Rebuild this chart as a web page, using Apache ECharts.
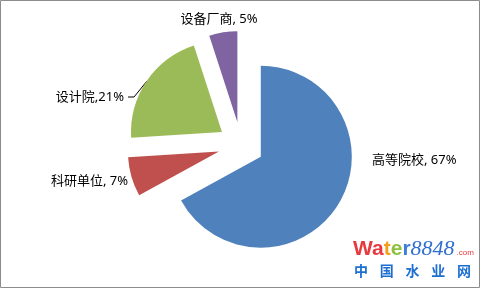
<!DOCTYPE html>
<html>
<head>
<meta charset="utf-8">
<script src="https://cdn.jsdelivr.net/npm/echarts@6/dist/echarts.min.js"></script>
<style>
  html, body { margin: 0; padding: 0; background: #fff; }
  #chart { width: 481px; height: 289px; }
</style>
</head>
<body>
<div id="chart"></div>
<script>
// Survey respondents by organisation type
const categories = ['高等院校', '科研单位', '设计院', '设备厂商'];
const shares = [67, 7, 21, 5];
const separators = [', ', ', ', ',', ', '];
const sliceColors = ['#4F81BD', '#C0504D', '#9BBB59', '#8064A2'];

const FONT = '"Noto Sans", "Noto Sans CJK SC", sans-serif';
const PIE_CENTER = [241, 145];
const PIE_RADIUS = 91;
const EXPLODE = 23;

// label anchors around the exploded pie
const labelSpots = [
  { x: 372, y: 160, align: 'left' },
  { x: 128, y: 181, align: 'right' },
  { x: 124, y: 97, align: 'right', line: [[128, 97], [134, 97], [147, 81]] },
  { x: 219, y: 19, align: 'center' }
];

const chart = echarts.init(document.getElementById('chart'), null, { renderer: 'canvas' });

// each slice is pushed out from the common centre along its own bisector,
// so every slice gets a pie series of its own
const total = shares.reduce((a, b) => a + b, 0);
let acc = 0;
const series = categories.map((name, i) => {
  const mid = (acc + shares[i] / 2) / total * Math.PI * 2;
  acc += shares[i];
  const center = [
    PIE_CENTER[0] + EXPLODE * Math.sin(mid),
    PIE_CENTER[1] - EXPLODE * Math.cos(mid)
  ];
  return {
    type: 'pie',
    center: center,
    radius: PIE_RADIUS,
    startAngle: 90,
    clockwise: true,
    silent: true,
    emphasis: { disabled: true },
    data: categories.map((n, j) => ({
      name: n,
      value: shares[j],
      itemStyle: { color: j === i ? sliceColors[j] : 'rgba(0,0,0,0)' },
      label: { show: j === i },
      labelLine: { show: j === i && j === 2 }
    })),
    label: {
      position: 'outside',
      overflow: 'none',
      width: null,
      color: '#000',
      fontSize: 13,
      fontFamily: FONT,
      formatter: p => p.name + separators[p.dataIndex] + p.value + '%'
    },
    labelLine: {
      lineStyle: { color: '#000', width: 1 }
    },
    labelLayout: function (params) {
      if (params.dataIndex !== i) return {};
      const s = labelSpots[i];
      const out = { x: s.x, y: s.y, align: s.align, verticalAlign: 'middle' };
      if (s.line) out.labelLinePoints = s.line;
      return out;
    }
  };
});

// site mark in the lower right corner
const markChars = ['中', '国', '水', '业', '网'];
const markGraphics = markChars.map((ch, k) => ({
  type: 'text',
  x: 361 + k * 25.75,
  y: 271,
  style: {
    text: ch,
    fill: '#1d6fd2',
    font: 'bold 14px "Noto Sans CJK SC", sans-serif',
    align: 'center',
    verticalAlign: 'middle'
  },
  silent: true
}));

chart.setOption({
  animation: false,
  backgroundColor: '#ffffff',
  graphic: [
    {
      type: 'rect',
      shape: { x: 0.5, y: 0.5, width: 479, height: 287 },
      style: { fill: 'none', stroke: '#8c8c8c', lineWidth: 1 },
      silent: true
    },
    {
      type: 'text', x: 353, y: 260,
      style: {
        text: '{r|Wa}{o|t}{g|e}{b|r}{n|8848}{c|.com}',
        verticalAlign: 'bottom',
        rich: {
          r: { fill: '#e63a3f', font: 'bold 21px "Liberation Sans", sans-serif' },
          o: { fill: '#f5a01a', font: 'bold 21px "Liberation Sans", sans-serif' },
          g: { fill: '#8cc23f', font: 'bold 21px "Liberation Sans", sans-serif' },
          b: { fill: '#3d7fd6', font: 'bold 21px "Liberation Sans", sans-serif' },
          n: { fill: '#2f6fd0', font: 'italic 22px "Liberation Serif", serif' },
          c: { fill: '#e63a3f', font: '8px "Liberation Sans", sans-serif', padding: [8, 0, 0, 2] }
        }
      },
      silent: true
    }
  ].concat(markGraphics),
  series: series
});
</script>
</body>
</html>
